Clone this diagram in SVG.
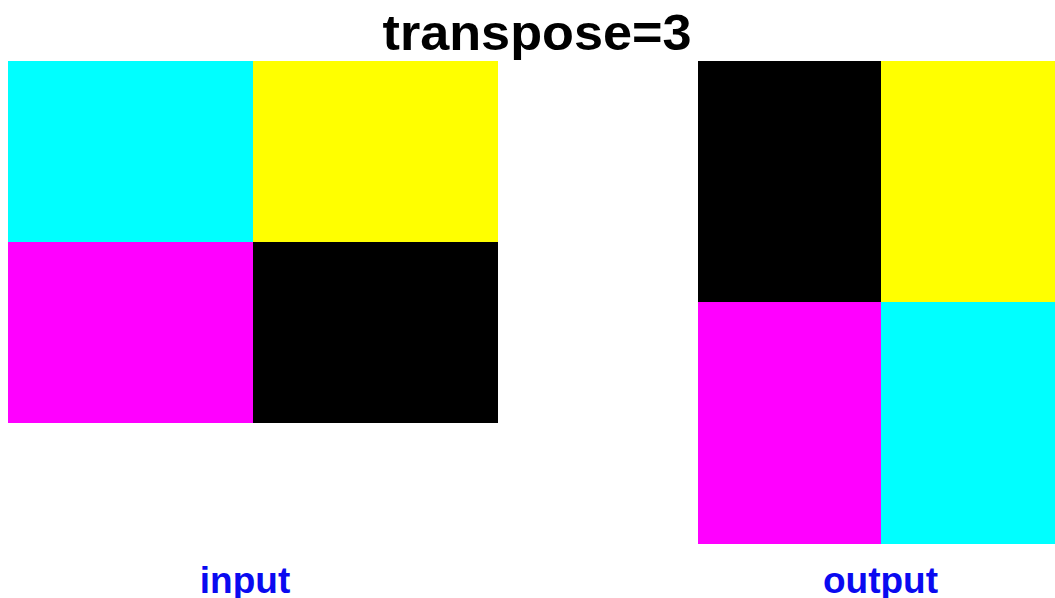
<svg xmlns="http://www.w3.org/2000/svg" width="1055" height="598" viewBox="0 0 1055 598">
<style>
.title{font-family:"Liberation Sans",Arial,sans-serif;font-weight:bold;font-size:50px;fill:#000;text-anchor:middle}
.lbl{font-family:"Liberation Sans",Arial,sans-serif;font-weight:bold;font-size:37px;fill:#0a0af0;text-anchor:middle}
</style>
<rect width="1055" height="598" fill="#fff"/>
<text class="title" x="537" y="50" textLength="309" lengthAdjust="spacingAndGlyphs">transpose=3</text>
<g id="input">
<rect x="8" y="61" width="245" height="181" fill="#00ffff"/>
<rect x="253" y="61" width="245" height="181" fill="#ffff00"/>
<rect x="8" y="242" width="245" height="181" fill="#ff00ff"/>
<rect x="253" y="242" width="245" height="181" fill="#000"/>
</g>
<g id="output">
<rect x="698" y="61" width="183" height="241" fill="#000"/>
<rect x="881" y="61" width="174" height="241" fill="#ffff00"/>
<rect x="698" y="302" width="183" height="242" fill="#ff00ff"/>
<rect x="881" y="302" width="174" height="242" fill="#00ffff"/>
</g>
<g id="labels">
<text class="lbl" x="245" y="593">input</text>
<text class="lbl" x="880.5" y="593">output</text>
</g>
<g id="connectors"/>
</svg>
